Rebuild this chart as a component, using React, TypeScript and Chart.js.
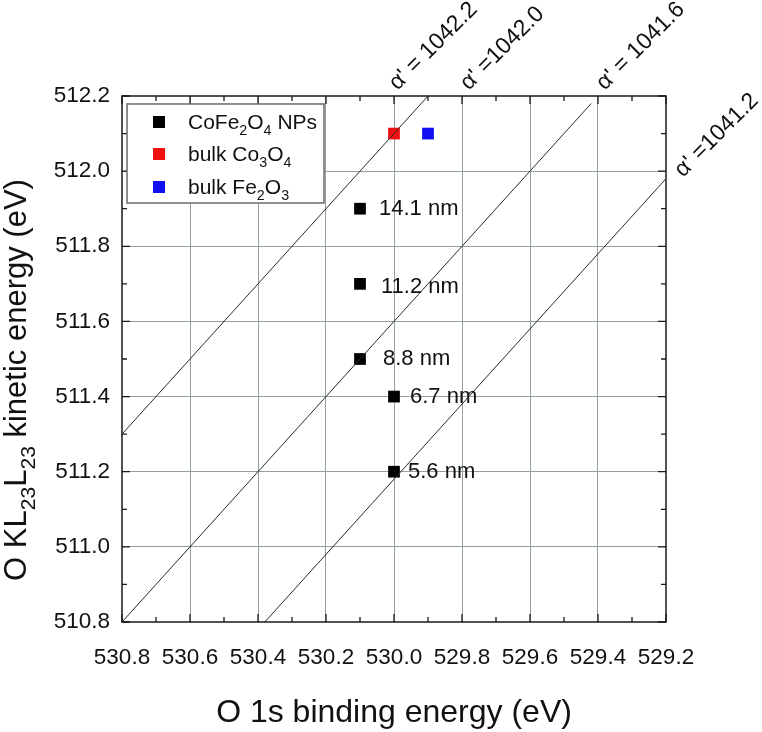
import React, { useEffect, useRef } from 'react';
import { Chart, registerables } from 'chart.js';

Chart.register(...registerables);

const FONT = '"Liberation Sans", Arial, sans-serif';

// CoFe2O4 nanoparticles (binding energy, kinetic energy, size)
const npBinding = [530.1, 530.1, 530.1, 530.0, 530.0];
const npKinetic = [511.9, 511.7, 511.5, 511.4, 511.2];
const npSizes = ['14.1 nm', '11.2 nm', '8.8 nm', '6.7 nm', '5.6 nm'];

// bulk references
const co3o4Binding = [530.0];
const co3o4Kinetic = [512.1];
const fe2o3Binding = [529.9];
const fe2o3Kinetic = [512.1];

// lines of constant Auger parameter: alpha' = BE + KE
const alphaValues = [1042.1, 1041.6, 1041.18];
const alphaFrom = [530.8, 530.8, 530.38];
const alphaTo = [529.9, 529.42, 529.2];
const alphaLabels = ["α' = 1042.2", "α' =1042.0", "α' = 1041.6", "α' =1041.2"];

// axes
const xMin = 529.2;
const xMax = 530.8;
const yMin = 510.8;
const yMax = 512.2;

type Seg = [string, boolean?];

const richWidth = (ctx: CanvasRenderingContext2D, segs: Seg[], size: number) => {
    let w = 0;
    for (const [t, sub] of segs) {
        ctx.font = `${sub ? size * 0.68 : size}px ${FONT}`;
        w += ctx.measureText(t).width;
    }
    return w;
};

const drawRich = (ctx: CanvasRenderingContext2D, segs: Seg[], x: number, y: number, size: number) => {
    let cx = x;
    for (const [t, sub] of segs) {
        ctx.font = `${sub ? size * 0.68 : size}px ${FONT}`;
        ctx.fillText(t, cx, sub ? y + size * 0.3 : y);
        cx += ctx.measureText(t).width;
    }
};

// label anchors in data space (binding, kinetic)
const alphaLabelAt = [
    [529.99, 512.213],
    [529.78, 512.213],
    [529.38, 512.213],
    [529.15, 511.982],
];
const sizeLabelShift = [[19, 0], [21, 3], [23, 0], [16, 0], [14, 0]];

const legendRows: { color: string; segs: Seg[] }[] = [
    { color: '#000000', segs: [['CoFe'], ['2', true], ['O'], ['4', true], [' NPs']] },
    { color: '#f01010', segs: [['bulk Co'], ['3', true], ['O'], ['4', true]] },
    { color: '#1010f0', segs: [['bulk Fe'], ['2', true], ['O'], ['3', true]] },
];

const decorations = {
    id: 'decorations',
    afterDatasetsDraw(chart: any) {
        const { ctx, chartArea: a, scales } = chart;
        const xs = scales.x;
        const ys = scales.y;
        ctx.save();
        ctx.strokeStyle = '#1a1a1a';
        ctx.lineWidth = 1.5;
        ctx.strokeRect(a.left, a.top, a.right - a.left, a.bottom - a.top);

        // inward ticks on all four sides
        ctx.lineWidth = 1.3;
        ctx.beginPath();
        for (let i = 0; i <= 16; i++) {
            const px = xs.getPixelForValue(xMin + i * 0.1);
            const len = i % 2 === 0 ? 8 : 5;
            ctx.moveTo(px, a.bottom);
            ctx.lineTo(px, a.bottom - len);
            ctx.moveTo(px, a.top);
            ctx.lineTo(px, a.top + len);
        }
        for (let i = 0; i <= 14; i++) {
            const py = ys.getPixelForValue(yMin + i * 0.1);
            const len = i % 2 === 0 ? 8 : 5;
            ctx.moveTo(a.left, py);
            ctx.lineTo(a.left + len, py);
            ctx.moveTo(a.right, py);
            ctx.lineTo(a.right - len, py);
        }
        ctx.stroke();
        ctx.restore();
    },
    afterDraw(chart: any) {
        const { ctx, chartArea: a, scales } = chart;
        const xs = scales.x;
        const ys = scales.y;
        ctx.save();
        ctx.fillStyle = '#111';

        // size labels next to nanoparticle points
        ctx.font = `22px ${FONT}`;
        ctx.textAlign = 'left';
        ctx.textBaseline = 'middle';
        npSizes.forEach((s, i) => {
            const px = xs.getPixelForValue(npBinding[i]);
            const py = ys.getPixelForValue(npKinetic[i]);
            ctx.fillText(s, px + sizeLabelShift[i][0], py + sizeLabelShift[i][1]);
        });

        // alpha' labels
        ctx.textBaseline = 'alphabetic';
        alphaLabels.forEach((s, i) => {
            const px = xs.getPixelForValue(alphaLabelAt[i][0]);
            const py = ys.getPixelForValue(alphaLabelAt[i][1]);
            ctx.save();
            ctx.translate(px, py);
            ctx.rotate(-Math.PI / 4);
            ctx.font = `23px ${FONT}`;
            ctx.fillText(s, 0, 0);
            ctx.restore();
        });

        // legend
        const lx = a.left + 5;
        const ly = a.top + 8;
        ctx.fillStyle = '#ffffff';
        ctx.fillRect(lx, ly, 197, 99);
        ctx.strokeStyle = '#6a6a6a';
        ctx.lineWidth = 1.5;
        ctx.strokeRect(lx, ly, 197, 99);
        const rowY = [26, 58, 91];
        legendRows.forEach((r, i) => {
            const cy = a.top + rowY[i];
            ctx.fillStyle = r.color;
            ctx.fillRect(a.left + 31, cy - 6, 12, 12);
            ctx.fillStyle = '#111';
            drawRich(ctx, r.segs, a.left + 66, cy + 7, 21);
        });

        // axis titles
        const xTitle: Seg[] = [['O 1s binding energy (eV)']];
        ctx.fillStyle = '#111';
        const xw = richWidth(ctx, xTitle, 32);
        drawRich(ctx, xTitle, (a.left + a.right) / 2 - xw / 2, 722, 32);

        const yTitle: Seg[] = [['O KL'], ['23', true], ['L'], ['23', true], [' kinetic energy (eV)']];
        const yw = richWidth(ctx, yTitle, 31);
        ctx.save();
        ctx.translate(26, 380);
        ctx.rotate(-Math.PI / 2);
        drawRich(ctx, yTitle, -yw / 2, 0, 31);
        ctx.restore();

        ctx.restore();
    },
};

const isEdge = (v: number, lo: number, hi: number) => Math.abs(v - lo) < 1e-6 || Math.abs(v - hi) < 1e-6;

const App = () => {
    const canvasRef = useRef<HTMLCanvasElement>(null);

    useEffect(() => {
        let chart: Chart | null = null;
        const ctx = canvasRef.current?.getContext('2d');
        if (ctx) {
            const lineSets = alphaValues.map((al, i) => ({
                type: 'line' as const,
                label: `alpha ${al}`,
                data: [
                    { x: alphaFrom[i], y: al - alphaFrom[i] },
                    { x: alphaTo[i], y: al - alphaTo[i] },
                ],
                borderColor: '#2a2a2a',
                borderWidth: 1,
                pointRadius: 0,
                fill: false,
            }));
            const pointSet = (label: string, xsv: number[], ysv: number[], color: string) => ({
                type: 'scatter' as const,
                label,
                data: xsv.map((x, i) => ({ x, y: ysv[i] })),
                backgroundColor: color,
                borderWidth: 0,
                pointStyle: 'rect',
                pointRadius: 8.3,
            });

            chart = new Chart(ctx, {
                type: 'scatter',
                data: {
                    datasets: [
                        ...lineSets,
                        pointSet('CoFe2O4 NPs', npBinding, npKinetic, '#000000'),
                        pointSet('bulk Co3O4', co3o4Binding, co3o4Kinetic, '#f01010'),
                        pointSet('bulk Fe2O3', fe2o3Binding, fe2o3Kinetic, '#1010f0'),
                    ] as any,
                },
                options: {
                    animation: false,
                    responsive: true,
                    maintainAspectRatio: false,
                    layout: { padding: { top: 96, right: 96, left: 0, bottom: 0 } },
                    plugins: {
                        legend: { display: false },
                        tooltip: { enabled: false },
                    },
                    scales: {
                        x: {
                            type: 'linear',
                            reverse: true,
                            min: xMin,
                            max: xMax,
                            afterFit: (s: any) => { s.height = 110; },
                            border: { display: false },
                            grid: {
                                drawTicks: false,
                                lineWidth: 1,
                                color: (c: any) => (c.tick && isEdge(c.tick.value, xMin, xMax) ? 'rgba(0,0,0,0)' : '#93a0a0'),
                            },
                            ticks: {
                                stepSize: 0.2,
                                padding: 22,
                                maxRotation: 0,
                                autoSkip: false,
                                color: '#111',
                                font: { family: FONT, size: 22.5 },
                                callback: (v: any) => Number(v).toFixed(1),
                            },
                        },
                        y: {
                            type: 'linear',
                            min: yMin,
                            max: yMax,
                            afterFit: (s: any) => { s.width = 122; },
                            border: { display: false },
                            grid: {
                                drawTicks: false,
                                lineWidth: 1,
                                color: (c: any) => (c.tick && isEdge(c.tick.value, yMin, yMax) ? 'rgba(0,0,0,0)' : '#93a0a0'),
                            },
                            ticks: {
                                stepSize: 0.2,
                                padding: 12,
                                color: '#111',
                                font: { family: FONT, size: 22.5 },
                                callback: (v: any) => Number(v).toFixed(1),
                            },
                        },
                    },
                },
                plugins: [decorations],
            });
        }
        return () => {
            if (chart) chart.destroy();
        };
    }, []);

    return (
        <div style={{ position: 'fixed', left: 0, top: 0, width: 762, height: 732, background: '#fff' }}>
            <canvas ref={canvasRef}></canvas>
        </div>
    );
};

export default App;
